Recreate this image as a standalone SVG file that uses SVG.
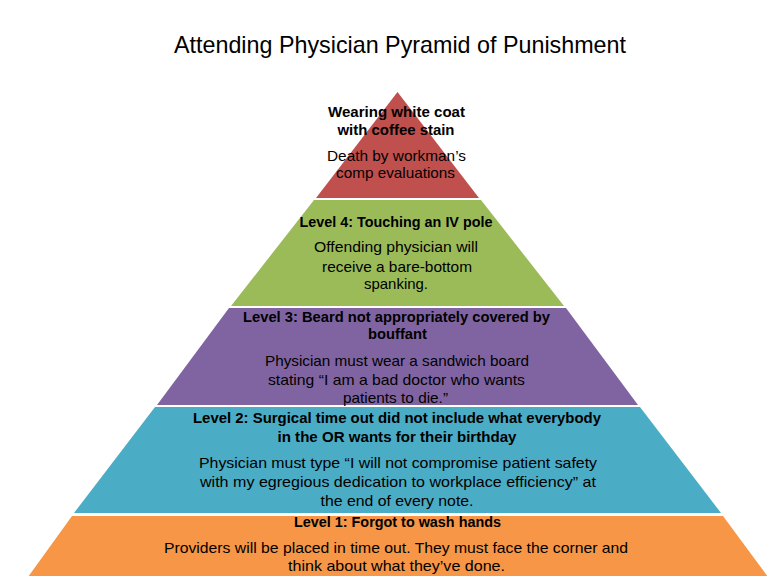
<svg xmlns="http://www.w3.org/2000/svg" width="768" height="576" viewBox="0 0 768 576">
<style>
text{font-family:"Liberation Sans",Arial,sans-serif;fill:#000;text-anchor:middle;font-size:15px}
.t{font-size:24px}
.b{font-weight:bold}
</style>
<rect width="768" height="576" fill="#fff"/>
<text class="t" x="400" y="53" textLength="452" lengthAdjust="spacingAndGlyphs">Attending Physician Pyramid of Punishment</text>
<g id="level5">
<polygon points="397.5,92 479,198 316,198" fill="#C0504D"/>
<text class="b" x="396.5" y="117" textLength="137" lengthAdjust="spacingAndGlyphs">Wearing  white coat</text>
<text class="b" x="396" y="135" textLength="117" lengthAdjust="spacingAndGlyphs">with coffee stain</text>
<text x="396.5" y="161" textLength="139" lengthAdjust="spacingAndGlyphs">Death by workman’s</text>
<text x="395.5" y="178" textLength="119" lengthAdjust="spacingAndGlyphs">comp evaluations</text>
</g>
<g id="level4">
<polygon points="314,200 481,200 564,306 231,306" fill="#9BBB59"/>
<text class="b" x="396" y="227" textLength="193" lengthAdjust="spacingAndGlyphs">Level 4: Touching  an IV pole</text>
<text x="396" y="252" textLength="164" lengthAdjust="spacingAndGlyphs">Offending physician will</text>
<text x="397" y="272" textLength="150" lengthAdjust="spacingAndGlyphs">receive  a bare-bottom</text>
<text x="396" y="289" textLength="64" lengthAdjust="spacingAndGlyphs">spanking.</text>
</g>
<g id="level3">
<polygon points="229,308 566,308 638,405 157,405" fill="#8064A2"/>
<text class="b" x="396.5" y="322" textLength="307" lengthAdjust="spacingAndGlyphs">Level 3: Beard not appropriately  covered by</text>
<text class="b" x="397.5" y="339" textLength="59" lengthAdjust="spacingAndGlyphs">bouffant</text>
<text x="397" y="366" textLength="264" lengthAdjust="spacingAndGlyphs">Physician must wear a sandwich board</text>
<text x="396.5" y="385" textLength="257" lengthAdjust="spacingAndGlyphs">stating “I am a bad doctor who wants</text>
<text x="395.5" y="403" textLength="105" lengthAdjust="spacingAndGlyphs">patients to die.”</text>
</g>
<g id="level2">
<polygon points="155,407 640,407 721,513 74,513" fill="#4BACC6"/>
<text class="b" x="397" y="423" textLength="408" lengthAdjust="spacingAndGlyphs">Level 2:  Surgical time out did not include what everybody</text>
<text class="b" x="397" y="442" textLength="239" lengthAdjust="spacingAndGlyphs">in the OR wants for their birthday</text>
<text x="398" y="468" textLength="398" lengthAdjust="spacingAndGlyphs">Physician must type “I will not compromise patient safety</text>
<text x="398" y="487" textLength="396" lengthAdjust="spacingAndGlyphs">with my egregious dedication to workplace efficiency” at</text>
<text x="397" y="506" textLength="153" lengthAdjust="spacingAndGlyphs">the end of every note.</text>
</g>
<g id="level1">
<polygon points="72,516 723,516 768,577 28,577" fill="#F79646"/>
<text class="b" x="397.5" y="527" textLength="207" lengthAdjust="spacingAndGlyphs">Level 1: Forgot to wash hands</text>
<text x="396" y="553" textLength="464" lengthAdjust="spacingAndGlyphs">Providers will be placed in time out.  They must face the corner and</text>
<text x="396.5" y="571" textLength="217" lengthAdjust="spacingAndGlyphs">think about what they’ve done.</text>
</g>
</svg>
